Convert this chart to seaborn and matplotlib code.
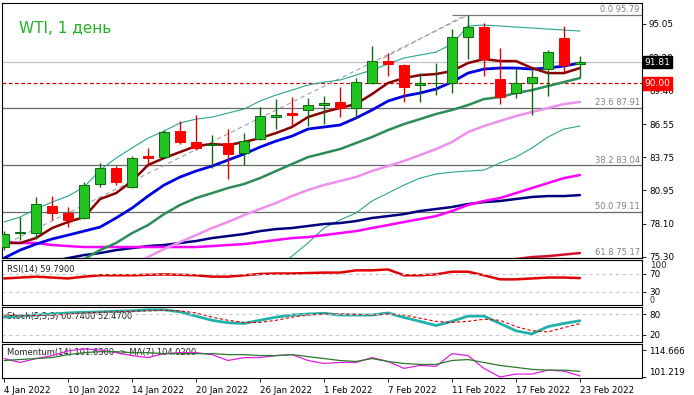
import matplotlib
matplotlib.use("Agg")
import matplotlib.pyplot as plt
import seaborn as sns
import pandas as pd
import numpy as np

# --- дневные свечи WTI (4 Jan - 23 Feb 2022) ---
dates = pd.bdate_range("2022-01-04", "2022-02-23")

opens = [76.13, 77.32, 77.32, 79.60, 79.01, 78.59, 81.47, 82.82, 81.21, 83.84, 83.76, 85.96, 85.03,
         84.77, 84.94, 84.10, 85.28, 87.15, 87.49, 87.74, 88.16, 88.42, 87.91, 90.03, 91.89, 91.55,
         89.86, 89.99, 90.03, 93.93, 94.77, 90.37, 89.18, 90.03, 91.21, 93.84, 91.68]
highs = [77.49, 78.67, 80.37, 80.45, 79.52, 81.64, 83.25, 82.99, 83.84, 84.52, 86.04, 86.81, 87.32,
         85.62, 86.13, 85.79, 87.99, 88.67, 88.84, 88.76, 88.93, 89.69, 90.45, 93.16, 92.57, 91.64,
         90.88, 91.72, 94.60, 95.79, 95.11, 92.99, 91.30, 91.13, 92.82, 94.86, 92.32]
lows = [75.88, 76.72, 76.81, 78.42, 77.82, 78.50, 81.21, 81.38, 81.13, 82.99, 83.67, 84.86, 84.35,
        82.82, 81.89, 83.08, 85.20, 86.13, 86.38, 86.38, 86.55, 87.15, 87.06, 89.94, 90.62, 88.42,
        88.42, 89.01, 89.18, 92.06, 90.62, 88.25, 88.76, 87.32, 88.93, 90.96, 90.54]
closes = [77.23, 77.40, 79.77, 79.01, 78.42, 81.38, 82.82, 81.64, 83.67, 83.67, 85.87, 85.03, 84.52,
          84.86, 84.01, 85.11, 87.23, 87.32, 87.32, 88.16, 88.33, 87.91, 90.11, 91.89, 91.64, 89.69,
          90.03, 90.03, 93.93, 94.77, 92.06, 88.84, 90.03, 90.54, 92.65, 91.55, 91.81]

nan = np.nan
ma_fast = [76.47, 76.47, 76.89, 77.74, 78.25, 78.67, 80.19, 80.70, 81.72, 83.08, 83.67, 84.18, 84.69,
           84.86, 84.77, 85.03, 85.36, 85.79, 86.30, 87.14, 87.57, 87.91, 88.25, 89.09, 90.03, 90.45,
           90.70, 90.79, 91.04, 91.72, 92.06, 91.89, 91.89, 91.30, 90.87, 90.87, 91.30]
ma_mid = [75.19, 75.87, 76.38, 76.81, 77.14, 77.48, 77.82, 78.59, 79.43, 80.45, 81.38, 82.06, 82.57,
          82.99, 83.50, 84.01, 84.60, 85.11, 85.53, 86.13, 86.30, 86.47, 87.06, 87.74, 88.50, 88.92,
          89.18, 89.52, 90.11, 90.87, 91.21, 91.30, 91.30, 91.21, 91.30, 91.47, 91.72]
ma_20 = [nan, nan, nan, nan, 74.40, 75.11, 75.87, 76.47, 77.31, 77.99, 78.92, 79.69, 80.28,
         80.70, 81.13, 81.47, 81.97, 82.57, 83.16, 83.75, 84.09, 84.43, 84.94, 85.45, 86.04, 86.55,
         86.97, 87.40, 87.74, 88.16, 88.67, 88.84, 89.18, 89.43, 89.77, 90.11, 90.45]
ma_50 = [nan, nan, nan, nan, nan, nan, nan, nan, 74.60, 75.28, 75.96, 76.55, 77.14,
         77.74, 78.25, 78.84, 79.35, 79.86, 80.45, 80.96, 81.38, 81.72, 82.06, 82.57, 82.99, 83.42,
         83.92, 84.43, 85.03, 85.87, 86.38, 86.81, 87.23, 87.57, 87.91, 88.25, 88.42]
ma_100 = [76.55, 76.47, 76.47, 76.30, 76.21, 76.13, 76.13, 76.13, 76.13, 76.13, 76.13, 76.13, 76.13,
          76.21, 76.30, 76.38, 76.55, 76.72, 76.89, 76.97, 77.14, 77.31, 77.48, 77.74, 77.99, 78.25,
          78.50, 78.75, 79.18, 79.69, 80.03, 80.28, 80.70, 81.13, 81.55, 81.97, 82.23]
ma_200 = [nan, nan, nan, 74.90, 75.19, 75.45, 75.62, 75.87, 76.04, 76.21, 76.30, 76.47, 76.64,
          76.89, 77.06, 77.23, 77.48, 77.65, 77.74, 77.91, 78.08, 78.16, 78.33, 78.59, 78.75, 78.92,
          79.18, 79.35, 79.52, 79.77, 79.94, 80.03, 80.20, 80.37, 80.45, 80.45, 80.53]
ma_slow = [nan] * 32 + [75.11, 75.28, 75.36, 75.49, 75.62]
bb_upper = [78.25, 78.67, 79.35, 79.94, 80.45, 81.21, 82.65, 83.67, 84.52, 85.36, 85.96, 86.64, 86.97,
            87.14, 87.48, 87.82, 88.50, 89.01, 89.43, 89.86, 90.11, 90.28, 90.70, 91.13, 91.64, 92.15,
            92.40, 92.65, 93.33, 94.86, 94.94, 94.86, 94.77, 94.69, 94.60, 94.52, 94.43]
bb_lower = [nan] * 17 + [74.18, 75.36, 76.47, 77.74, 78.42, 79.01, 80.03, 80.70, 81.38, 81.97,
                         82.31, 82.48, 82.57, 82.65, 83.25, 83.75, 84.52, 85.45, 86.13, 86.38]

rsi = [59, 61, 63, 61, 59, 63, 66, 66, 66, 67, 68, 67, 66, 63, 63, 66, 69, 70, 70, 71, 72, 72, 77,
       77, 79, 66, 66, 68, 74, 74, 66, 57, 57, 59, 61, 61, 59.79]
stoch_main = [71, 74, 77, 80, 83, 85, 86, 88, 89, 92, 92, 86, 74, 62, 55, 53, 62, 71, 77, 80, 82,
              77, 77, 77, 83, 70, 59, 47, 59, 74, 74, 53, 32, 23, 44, 53, 60.74]
stoch_signal = [77, 74, 76, 77, 80, 83, 85, 86, 88, 89, 91, 89, 83, 71, 62, 56, 56, 62, 71, 77, 80,
                80, 79, 77, 80, 77, 68, 59, 56, 59, 65, 62, 44, 32, 29, 41, 52.47]
momentum = [110.5, 108.5, 110.5, 112.0, 114.4, 115.4, 114.9, 113.5, 112.0, 111.0, 113.0, 113.5, 113.5,
            112.5, 109.5, 111.0, 111.0, 112.0, 112.5, 109.5, 108.0, 108.5, 108.5, 111.0, 109.0, 105.5,
            107.0, 106.5, 113.0, 112.0, 105.5, 101.1, 102.6, 102.6, 104.6, 104.1, 101.63]
momentum_ma = [109.5, 110.0, 110.5, 111.0, 112.5, 113.5, 114.0, 114.0, 113.5, 113.5, 113.0, 113.0, 113.0,
               113.0, 112.5, 112.5, 112.0, 112.0, 112.5, 111.5, 110.5, 109.5, 109.0, 110.5, 109.0, 108.0,
               107.5, 107.5, 109.5, 110.0, 108.5, 107.0, 106.0, 105.0, 104.6, 104.6, 104.02]

fib_names = ["0.0", "23.6", "38.2", "50.0", "61.8"]
fib_levels = [95.79, 87.91, 83.04, 79.11, 75.17]
fib_trend_idx = [-0.2, 29]
fib_trend_price = [76.2, 95.79]
fib_trend2_idx = [23.7, 28.6]
fib_trend2_price = [92.12, 95.62]
last_price = 91.81
alert_price = 90.00

price_ticks = [95.05, 92.20, 89.40, 86.55, 83.75, 80.95, 78.10, 75.30]
rsi_ticks = [70, 30]
stoch_ticks = [80, 20]
mom_ticks = [101.219, 114.666]
date_ticks = list(range(0, 37, 4))

df = pd.DataFrame({"idx": np.arange(len(opens)), "open": opens, "high": highs, "low": lows,
                   "close": closes, "date": dates})

sns.set_theme(style="white")
plt.rcParams["font.family"] = ["DejaVu Sans"]
plt.rcParams["axes.linewidth"] = 0.8
plt.rcParams["axes.edgecolor"] = "black"

W, H = 694, 395
fig = plt.figure(figsize=(W / 100, H / 100), dpi=100)
fig.patch.set_facecolor("white")


def box(x0, y0, x1, y1):
    return [x0 / W, 1 - y1 / H, (x1 - x0) / W, (y1 - y0) / H]


ax = fig.add_axes(box(2, 3, 642, 258))
ax_rsi = fig.add_axes(box(2, 260, 642, 305), sharex=ax)
ax_sto = fig.add_axes(box(2, 307, 642, 342), sharex=ax)
ax_mom = fig.add_axes(box(2, 344, 642, 378), sharex=ax)

TXT = 6
idx = df["idx"]

# уровни Фибоначчи и ценовые линии
for name, lvl in zip(fib_names, fib_levels):
    if name == "0.0":
        ax.hlines(lvl, 28, 40, color="#7a7a7a", lw=0.9, zorder=1)
    else:
        ax.axhline(lvl, color="#6a6a6a", lw=0.9, zorder=1)
    ax.text(39.75, lvl + 0.08, f"{name} {lvl:.2f}", ha="right", va="bottom", fontsize=TXT,
            color="#808080", zorder=6)
ax.axhline(last_price, color="#c4c4c4", lw=0.9, zorder=1)
ax.axhline(alert_price, color="#d40000", lw=0.9, ls=(0, (3, 2)), zorder=1)
ax.plot(fib_trend_idx, fib_trend_price, color="#a0a0a0", lw=0.8, ls=(0, (4, 3)), zorder=2)
ax.plot(fib_trend2_idx, fib_trend2_price, color="#a0a0a0", lw=0.8, ls=(0, (4, 3)), zorder=2)

# скользящие средние и полосы Боллинджера
lines = [(bb_upper, "#2aa58f", 0.8), (bb_lower, "#2aa58f", 0.8),
         (ma_200, "#000080", 1.8), (ma_100, "#ff00ff", 1.8), (ma_50, "#ee90ee", 1.8),
         (ma_slow, "#d0102a", 1.8), (ma_20, "#2e8b57", 1.8), (ma_mid, "#0000e0", 2.0),
         (ma_fast, "#8b0000", 1.8)]
for vals, col, lw in lines:
    sns.lineplot(x=idx, y=vals, ax=ax, color=col, linewidth=lw, legend=False, zorder=3)

# свечи
up = df["close"] >= df["open"]
body_lo = np.minimum(df["open"], df["close"])
body_h = np.maximum((df["close"] - df["open"]).abs(), 0.08)
ax.vlines(idx, df["low"], df["high"], colors=np.where(up, "#0b6b0b", "#e00000"), lw=1.0, zorder=4)
ax.bar(idx, body_h, bottom=body_lo, width=0.62, color=np.where(up, "#22c322", "#ff0000"),
       edgecolor=np.where(up, "#0b6b0b", "#ff0000"), linewidth=0.7, zorder=5)

ax.set_xlim(-0.13, 39.88)
ax.set_ylim(75.20, 96.81)
ax.set_yticks(price_ticks)
ax.set_yticklabels([f"{v:.2f}" for v in price_ticks])

ax.text(0.027, 0.9, "WTI, 1 день", transform=ax.transAxes, fontsize=11, color="#1fb41f",
        ha="left", va="center")
ytr = ax.get_yaxis_transform()
ax.text(1.004, last_price, f"{last_price:.2f}", transform=ytr, fontsize=TXT + 0.5, color="white",
        va="center", ha="left", zorder=10, clip_on=False,
        bbox=dict(boxstyle="square,pad=0.2", fc="black", ec="black"))
ax.text(1.004, alert_price, f"{alert_price:.2f}", transform=ytr, fontsize=TXT + 0.5, color="white",
        va="center", ha="left", zorder=10, clip_on=False,
        bbox=dict(boxstyle="square,pad=0.2", fc="#ff0000", ec="#ff0000"))

# RSI
sns.lineplot(x=idx, y=rsi, ax=ax_rsi, color="#e00000", linewidth=1.8, legend=False)
for lvl in rsi_ticks:
    ax_rsi.axhline(lvl, color="#c8c8c8", lw=0.8, ls=(0, (3, 3)))
ax_rsi.set_ylim(0, 100)
ax_rsi.set_yticks(rsi_ticks)
rtr = ax_rsi.get_yaxis_transform()
ax_rsi.text(1.012, 88, "100", transform=rtr, fontsize=TXT + 0.3, va="center", ha="left",
            clip_on=False)
ax_rsi.text(1.012, 0, "0", transform=rtr, fontsize=TXT - 0.3, va="bottom", ha="left",
            clip_on=False)
ax_rsi.text(0.008, 0.78, f"RSI(14) {rsi[-1]:.4f}", transform=ax_rsi.transAxes, fontsize=TXT,
            va="center", color="#202020")

# Stochastic
sns.lineplot(x=idx, y=stoch_main, ax=ax_sto, color="#20b2aa", linewidth=2.0, legend=False)
ax_sto.plot(idx, stoch_signal, color="#e00000", lw=0.8, ls=(0, (3, 2)))
for lvl in stoch_ticks:
    ax_sto.axhline(lvl, color="#c8c8c8", lw=0.8, ls=(0, (3, 3)))
ax_sto.set_ylim(0, 100)
ax_sto.set_yticks(stoch_ticks)
ax_sto.text(0.008, 0.74, f"Stoch(5,3,3) {stoch_main[-1]:.4f} {stoch_signal[-1]:.4f}",
            transform=ax_sto.transAxes, fontsize=TXT, va="center", color="#202020", zorder=1)

# Momentum
sns.lineplot(x=idx, y=momentum, ax=ax_mom, color="#e020e0", linewidth=0.9, legend=False)
sns.lineplot(x=idx, y=momentum_ma, ax=ax_mom, color="#2a7a2a", linewidth=0.9, legend=False)
ax_mom.set_ylim(100.6, 117.9)
ax_mom.set_yticks(mom_ticks)
ax_mom.set_yticklabels([f"{v:.3f}" for v in mom_ticks])
ax_mom.text(0.008, 0.76, f"Momentum(14) {momentum[-1]:.4f} -> MA(7) {momentum_ma[-1]:.4f}",
            transform=ax_mom.transAxes, fontsize=TXT, va="center", color="#202020", zorder=1)

for a in (ax, ax_rsi, ax_sto, ax_mom):
    a.set_facecolor("white")
    a.yaxis.tick_right()
    a.tick_params(axis="y", which="both", right=True, left=False, direction="out", length=3,
                  width=0.6, labelsize=TXT + 0.3, pad=2, colors="black")
    a.set_xlabel("")
    a.set_ylabel("")
    for s in a.spines.values():
        s.set_color("black")
        s.set_linewidth(0.8)
    if a is not ax_mom:
        a.tick_params(axis="x", bottom=False, labelbottom=False)

for lab in ax_mom.get_yticklabels():
    if lab.get_text() == "101.219":
        lab.set_va("bottom")

ax_mom.set_xticks(date_ticks)
ax_mom.set_xticklabels([f"{d.day} {d:%b %Y}" for d in df["date"].iloc[date_ticks]], ha="left")
ax_mom.tick_params(axis="x", bottom=True, direction="out", length=3, width=0.6, labelsize=TXT + 0.3,
                   pad=3, colors="black")

fig.savefig("out.png", dpi=100, facecolor="white")
